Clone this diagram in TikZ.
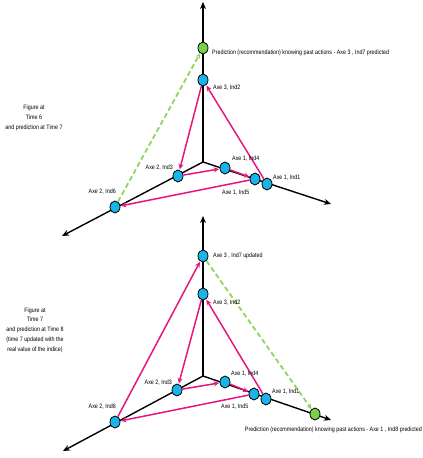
\documentclass[tikz,border=0pt]{standalone}
\usepackage{fontspec}
\newfontfamily\labfont{Liberation Sans}[FakeStretch=0.85]
\usetikzlibrary{arrows.meta,shapes.geometric}
\definecolor{dotcyan}{HTML}{1BB4E9}
\definecolor{dotgreen}{HTML}{77D14A}
\definecolor{pathmag}{HTML}{E5177C}
\definecolor{dashgreen}{HTML}{8CD65A}
\tikzset{
  dot/.style={ellipse,draw=black,line width=0.8pt,fill=dotcyan,minimum width=10pt,minimum height=12pt,inner sep=0pt},
  gdot/.style={dot,fill=dotgreen},
  axis/.style={draw=black,line width=1.4pt,-{Stealth[length=7pt,width=6pt]}},
  mag/.style={draw=pathmag,line width=1.5pt,-{Stealth[length=5.5pt,width=5pt]},shorten >=0.5pt},
  pred/.style={draw=dashgreen,line width=1.8pt,dash pattern=on 5pt off 3pt,-{Stealth[length=5pt,width=5pt]}},
  lab/.style={font=\labfont\fontsize{6.3}{7}\selectfont,inner sep=0pt},
  side/.style={lab,align=center,font=\labfont\fontsize{6.3}{9.7}\selectfont}
}
\begin{document}
\begin{tikzpicture}[x=1pt,y=-1pt]
\useasboundingbox (0,0) rectangle (423,458);
% ---------- top diagram ----------
\coordinate (o1) at (203,162);
\coordinate (z1) at (203,2);
\coordinate (r1) at (331,204);
\coordinate (l1) at (62,236);
\draw[axis] (o1) -- (z1);
\draw[axis] (o1) -- (r1);
\draw[axis] (o1) -- (l1);
\node[gdot] (a7) at (203,48) {};
\node[dot] (a2) at (203,80) {};
\node[dot] (a3) at (178,176) {};
\node[dot] (a4) at (225,168) {};
\node[dot] (a5) at (255,179) {};
\node[dot] (a1) at (267,184) {};
\node[dot] (a6) at (115,207) {};
\draw[mag] (a1) -- (a2);
\draw[mag] (a2) -- (a3);
\draw[mag] (a3) -- (a4);
\draw[mag] (a4) -- (a5);
\draw[mag] (a5) -- (a6);
\draw[pred] (a6) -- (a7);
\node[lab,anchor=west] (ta7) at (212,53) {Prediction (recommendation) knowing past actions - Axe 3 , Ind7 predicted};
\node[lab,anchor=west] (ta2) at (213,88) {Axe 3, Ind2};
\node[lab,anchor=east] (ta3) at (173,168) {Axe 2, Ind3};
\node[lab,anchor=west] (ta4) at (232,159) {Axe 1, Ind4};
\node[lab,anchor=west] (ta1) at (273,178) {Axe 1, Ind1};
\node[lab,anchor=west] (ta5) at (222,193) {Axe 1, Ind5};
\node[lab,anchor=east] (ta6) at (116,192) {Axe 2, Ind6};
\node[side] (s1) at (34,118) {Figure at\\Time 6\\and prediction at Time 7};
% ---------- bottom diagram ----------
\coordinate (o2) at (203,376);
\coordinate (z2) at (203,216);
\coordinate (r2) at (331,420);
\coordinate (l2) at (63,451);
\draw[axis] (o2) -- (z2);
\draw[axis] (o2) -- (r2);
\draw[axis] (o2) -- (l2);
\node[dot] (b7) at (203,256) {};
\node[dot] (b2) at (203,294) {};
\node[dot] (b3) at (177,390) {};
\node[dot] (b4) at (225,382) {};
\node[dot] (b5) at (254,394) {};
\node[dot] (b1) at (266,399) {};
\node[dot] (b6) at (115,422) {};
\node[gdot] (b8) at (315,414) {};
\draw[mag] (b1) -- (b2);
\draw[mag] (b2) -- (b3);
\draw[mag] (b3) -- (b4);
\draw[mag] (b4) -- (b5);
\draw[mag] (b5) -- (b6);
\draw[mag] (b6) -- (b7);
\draw[pred] (b7) -- (b8);
\node[lab,anchor=west] (tb7) at (213,256) {Axe 3 , Ind7 updated};
\node[lab,anchor=west] (tb2) at (213,303) {Axe 3, Ind2};
\node[lab,anchor=east] (tb3) at (172,383) {Axe 2, Ind3};
\node[lab,anchor=west] (tb4) at (231,374) {Axe 1, Ind4};
\node[lab,anchor=west] (tb1) at (272,392) {Axe 1, Ind1};
\node[lab,anchor=west] (tb5) at (221,407) {Axe 1, Ind5};
\node[lab,anchor=east] (tb6) at (116,407) {Axe 2, Ind6};
\node[lab,anchor=east] (tb8) at (422,430) {Prediction (recommendation) knowing past actions - Axe 1 , Ind8 predicted};
\node[side] (s2) at (35,330) {Figure at\\Time 7\\and prediction at Time 8\\(time 7 updated with the\\real value of the indice)};
\end{tikzpicture}
\end{document}
